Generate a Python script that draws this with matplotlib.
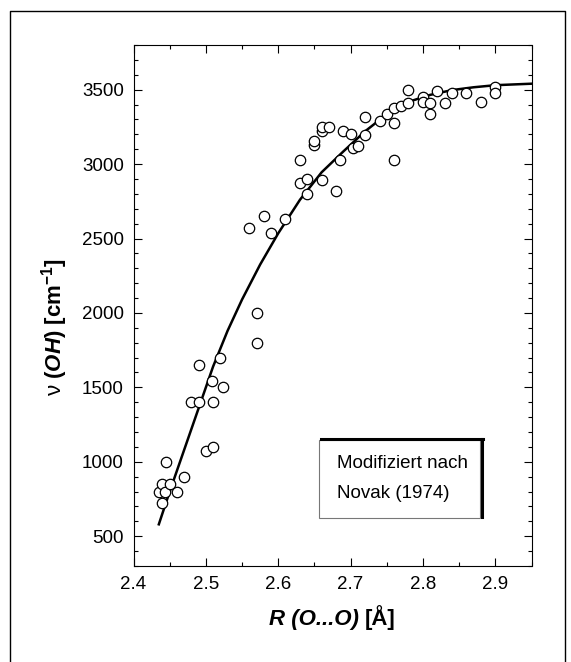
import numpy as np
import matplotlib.pyplot as plt
from matplotlib.ticker import MultipleLocator
from matplotlib.patches import Rectangle
from matplotlib.lines import Line2D

plt.rcParams['font.family'] = ['Liberation Sans', 'DejaVu Sans']
plt.rcParams['mathtext.fontset'] = 'custom'
plt.rcParams['mathtext.it'] = 'Liberation Sans:italic:bold'
plt.rcParams['mathtext.rm'] = 'Liberation Sans:bold'
plt.rcParams['mathtext.bf'] = 'Liberation Sans:bold'

# measured points: O...O distance vs OH stretching frequency
r_oo = [2.435, 2.44, 2.44, 2.444, 2.445, 2.45, 2.46, 2.47, 2.48, 2.49,
        2.49, 2.50, 2.51, 2.51, 2.509, 2.52, 2.523, 2.56, 2.57, 2.57,
        2.58, 2.59, 2.61, 2.63, 2.63, 2.64, 2.64, 2.65, 2.65, 2.66,
        2.66, 2.66, 2.67, 2.68, 2.685, 2.69, 2.70, 2.703, 2.71, 2.72,
        2.72, 2.74, 2.75, 2.76, 2.76, 2.76, 2.77, 2.78, 2.78, 2.80,
        2.80, 2.81, 2.81, 2.82, 2.83, 2.84, 2.86, 2.88, 2.90, 2.90]
nu_oh = [800, 850, 720, 800, 1000, 850, 800, 900, 1400, 1400,
         1650, 1070, 1100, 1400, 1545, 1700, 1500, 2570, 2000, 1800,
         2650, 2540, 2630, 3030, 2875, 2900, 2800, 3130, 3155, 2890,
         3225, 3248, 3250, 2820, 3025, 3222, 3200, 3110, 3120, 3197,
         3318, 3287, 3335, 3380, 3278, 3030, 3392, 3500, 3412, 3452,
         3418, 3408, 3338, 3490, 3410, 3480, 3480, 3418, 3520, 3480]

# fitted curve
curve_r = [2.435, 2.45, 2.47, 2.49, 2.51, 2.53, 2.55, 2.575, 2.60, 2.63,
           2.66, 2.69, 2.72, 2.75, 2.78, 2.81, 2.84, 2.87, 2.90, 2.95]
curve_nu = [580, 800, 1080, 1360, 1640, 1880, 2090, 2325, 2535, 2760,
            2945, 3085, 3220, 3335, 3418, 3465, 3497, 3516, 3530, 3540]

W, H = 571, 662
def fx(px):
    return px / W
def fy(py):
    return 1 - py / H

fig = plt.figure(figsize=(W / 100, H / 100), dpi=100)
ax = fig.add_axes([fx(133.5), fy(566), 398 / W, 521 / H])

ax.plot(curve_r, curve_nu, color='black', lw=1.8, zorder=2)
ax.plot(r_oo, nu_oh, 'o', ms=7.5, mfc='white', mec='black', mew=0.9, zorder=3)

ax.set_xlim(2.4, 2.95)
ax.set_ylim(300, 3800)
ax.xaxis.set_major_locator(MultipleLocator(0.1))
ax.xaxis.set_minor_locator(MultipleLocator(0.05))
ax.yaxis.set_major_locator(MultipleLocator(500))
ax.yaxis.set_minor_locator(MultipleLocator(100))
ax.tick_params(which='both', direction='in', top=True, right=True, labelsize=13.5, width=0.8)
ax.tick_params(which='major', length=5.5, pad=7)
ax.tick_params(which='minor', length=2.8)
for s in ax.spines.values():
    s.set_linewidth(0.8)

# x label: bold italic part followed by bold upright unit
xl1 = fig.text(fx(265), fy(620), "R (O...O) ", fontweight='bold', fontstyle='italic',
               fontsize=16, ha='left', va='center')
fig.canvas.draw()
bb = xl1.get_window_extent()
xl_w = bb.width
xl2 = ax.annotate("[Å]", xy=(1, 0), xycoords=xl1, va='bottom', ha='left',
                  fontweight='bold', fontsize=16)
fig.canvas.draw()
tot = xl_w + xl2.get_window_extent().width
xl1.set_x(fx(332.5 - tot / 2))

fig.text(fx(55), fy(327), r"ν $\mathit{(OH)}$ $\mathrm{[cm^{-1}]}$",
         fontsize=16, rotation=90, ha='center', va='center')

# note box with heavy top/right edges
fig.add_artist(Rectangle((fx(318.5), fy(518)), (479.5 - 318.5) / W, (518 - 440) / H,
                         transform=fig.transFigure, fill=False, ec='#777777', lw=0.8))
fig.add_artist(Line2D([fx(321), fx(482.7)], [fy(439.3), fy(439.3)],
                      transform=fig.transFigure, color='black', lw=2.2))
fig.add_artist(Line2D([fx(481.5), fx(481.5)], [fy(439), fy(517)],
                      transform=fig.transFigure, color='black', lw=2.2))
fig.text(fx(336.7), fy(464), "Modifiziert nach", fontsize=13.5, va='center', ha='left')
fig.text(fx(336.7), fy(494), "Novak (1974)", fontsize=13.5, va='center', ha='left')

# outer frame
fig.add_artist(Line2D([fx(10.3), fx(10.3), fx(565), fx(565)],
                      [fy(662), fy(11.3), fy(11.3), fy(662)],
                      transform=fig.transFigure, color='black', lw=1.0))

fig.savefig('out.png', dpi=100)
